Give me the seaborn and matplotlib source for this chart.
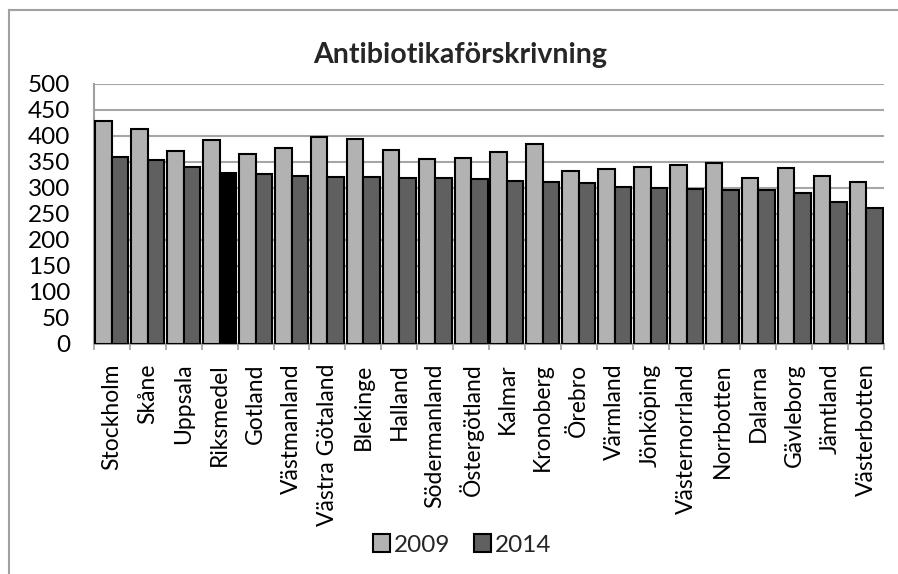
import matplotlib
matplotlib.use("Agg")
import matplotlib.pyplot as plt
import seaborn as sns
import pandas as pd
import numpy as np
from matplotlib.patches import Rectangle, Patch

regions = ["Stockholm", "Skåne", "Uppsala", "Riksmedel", "Gotland", "Västmanland",
           "Västra Götaland", "Blekinge", "Halland", "Södermanland", "Östergötland",
           "Kalmar", "Kronoberg", "Örebro", "Värmland", "Jönköping", "Västernorrland",
           "Norrbotten", "Dalarna", "Gävleborg", "Jämtland", "Västerbotten"]
values_2009 = [429, 414, 372, 392, 366, 376, 399, 394, 374, 356, 357,
               370, 385, 333, 336, 341, 344, 349, 319, 339, 324, 311]
values_2014 = [359, 354, 340, 328, 327, 323, 321, 321, 319, 319, 318,
               314, 311, 309, 302, 300, 298, 297, 296, 290, 274, 261]
years = ["2009", "2014"]
y_ticks = [0, 50, 100, 150, 200, 250, 300, 350, 400, 450, 500]

sns.set_theme(style="white")
plt.rcParams['font.family'] = ['Lato', 'DejaVu Sans']

df = pd.DataFrame({
    "Region": regions * 2,
    "År": [years[0]] * len(regions) + [years[1]] * len(regions),
    "Värde": values_2009 + values_2014,
})

c09 = "#b2b2b2"
c14 = "#606060"
fs = 17.5

fig = plt.figure(figsize=(8.98, 5.74), dpi=100)
ax = fig.add_axes([94/898, 1-344/574, (884-94)/898, (344-84)/574])

sns.barplot(data=df, x="Region", y="Värde", hue="År", order=regions, hue_order=years,
            palette=[c09, c14], width=0.92, edgecolor="black", linewidth=1.5,
            saturation=1, ax=ax, legend=False, zorder=3)

# Riksmedel 2014 in black
idx = regions.index("Riksmedel")
for p in ax.patches:
    x_c = p.get_x() + p.get_width() / 2
    if abs(x_c - (idx + 0.23)) < 0.2 and abs(p.get_height() - values_2014[idx]) < 0.5:
        p.set_facecolor("black")

ax.set_xlim(-0.5, len(regions) - 0.5)
ax.set_ylim(0, 500)
ax.set_yticks(y_ticks)
ax.set_yticklabels([str(t) for t in y_ticks], fontsize=fs, color="black")
ax.set_xticks(range(len(regions)))
ax.set_xticklabels(regions, rotation=90, fontsize=16.5, color="black")
ax.tick_params(axis="x", length=0, pad=14)
ax.tick_params(axis="y", length=0, pad=17)
ax.set_xticks(np.arange(-0.5, len(regions), 1), minor=True)
ax.tick_params(axis="x", which="minor", length=4, color="#a0a0a0", width=1.2, bottom=True)
ax.set_xlabel("")
ax.set_ylabel("")

ax.grid(axis="y", color="#a6a6a6", linewidth=1.5, zorder=0)
ax.set_axisbelow(True)
for s in ["top", "right"]:
    ax.spines[s].set_visible(False)
for s in ["left", "bottom"]:
    ax.spines[s].set_color("#a0a0a0")
    ax.spines[s].set_linewidth(1.5)

fig.text(460/898, 1-55/574, "Antibiotikaförskrivning", ha="center", va="center",
         fontsize=20.5, fontweight="bold")

handles = [Patch(facecolor=c09, edgecolor="black", linewidth=1.5),
           Patch(facecolor=c14, edgecolor="black", linewidth=1.5)]
fig.legend(handles, years, loc="center", bbox_to_anchor=(462/898, 1-545/574), ncol=2,
           frameon=False, fontsize=fs, handlelength=0.7, handleheight=0.7,
           handletextpad=0.15, columnspacing=1.0)

# outer chart border
fig.patches.append(Rectangle((9/898, -0.1), 1.2, 1 - 10/574 + 0.1, transform=fig.transFigure,
                             fill=False, edgecolor="#a0a0a0", linewidth=1.5))

fig.savefig("out.png", dpi=100)
